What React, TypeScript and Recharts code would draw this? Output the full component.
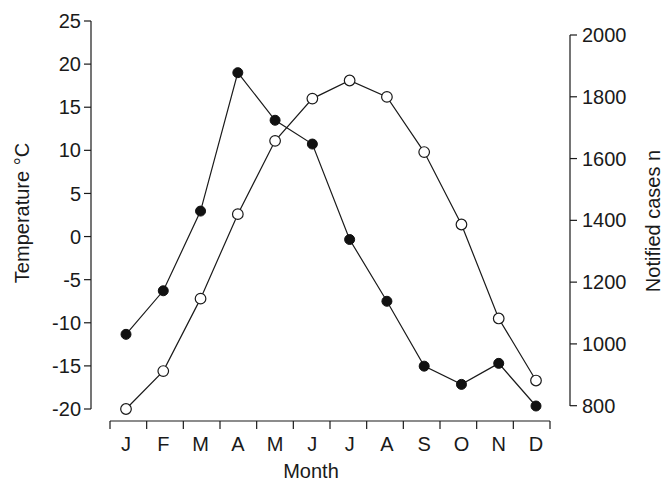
import { LineChart, Line, XAxis, YAxis } from 'recharts';

const months = ['J', 'F', 'M', 'A', 'M', 'J', 'J', 'A', 'S', 'O', 'N', 'D'];
const temperature = [-20, -15.6, -7.2, 2.6, 11.1, 16.0, 18.1, 16.2, 9.8, 1.4, -9.5, -16.7];
const notifiedCases = [1031, 1172, 1430, 1878, 1724, 1647, 1338, 1138, 928, 869, 937, 799];

const tempTicks = [-20, -15, -10, -5, 0, 5, 10, 15, 20, 25];
const caseTicks = [800, 1000, 1200, 1400, 1600, 1800, 2000];
// month boundaries, half a step either side of each month
const monthBounds = [-0.5, 0.5, 1.5, 2.5, 3.5, 4.5, 5.5, 6.5, 7.5, 8.5, 9.5, 10.5, 11.5];
const monthIdx = months.map((_, i) => i);

const data = months.map((m, i) => ({
  idx: i,
  month: m,
  temperature: temperature[i],
  cases: notifiedCases[i],
}));

const ink = '#1a1a1a';
const font = '"Liberation Sans", Arial, sans-serif';
const tickStyle = { fontSize: 20, fill: ink, fontFamily: font };

export default function App() {
  return (
    <div style={{ position: 'absolute', left: 0, top: 0, width: 665, height: 483, background: '#fff' }}>
      <LineChart width={665} height={483} data={data} margin={{ top: 21, right: 0, bottom: 21, left: 0 }}>
        <XAxis
          xAxisId="bounds"
          type="number"
          dataKey="idx"
          domain={[-0.5, 11.5]}
          allowDataOverflow
          ticks={monthBounds}
          interval={0}
          padding={{ left: 19, right: 20 }}
          height={1}
          tickSize={8}
          tickFormatter={() => ''}
          tickLine={{ stroke: ink, strokeWidth: 1.2 }}
          axisLine={{ stroke: ink, strokeWidth: 1.2, strokeDasharray: '0 19 440 200' }}
        />
        <XAxis
          xAxisId="m"
          type="number"
          dataKey="idx"
          domain={[0, 11]}
          ticks={monthIdx}
          interval={0}
          padding={{ left: 35, right: 34 }}
          height={40}
          tickSize={0}
          tickMargin={15}
          axisLine={false}
          tickLine={false}
          tickFormatter={(v: number) => months[v]}
          tick={tickStyle}
          label={{
            content: () => (
              <text x={311} y={478} textAnchor="middle" fontSize={20} fill={ink} fontFamily={font}>
                Month
              </text>
            ),
          }}
        />
        <YAxis
          yAxisId="t"
          domain={[-20, 25]}
          ticks={tempTicks}
          interval={0}
          width={91}
          padding={{ top: 0, bottom: 12 }}
          tickSize={7}
          tickMargin={3}
          tick={tickStyle}
          tickLine={{ stroke: ink, strokeWidth: 1.2 }}
          axisLine={{ stroke: ink, strokeWidth: 1.2, strokeDasharray: '388 200' }}
          label={{
            content: () => (
              <text
                transform="translate(29,213) rotate(-90)"
                textAnchor="middle"
                fontSize={20}
                fill={ink}
                fontFamily={font}
              >
                Temperature °C
              </text>
            ),
          }}
        />
        <YAxis
          yAxisId="c"
          orientation="right"
          domain={[800, 2000]}
          ticks={caseTicks}
          interval={0}
          width={95}
          padding={{ top: 14, bottom: 15 }}
          tickSize={7}
          tickMargin={5}
          tick={tickStyle}
          tickLine={{ stroke: ink, strokeWidth: 1.2 }}
          axisLine={{ stroke: ink, strokeWidth: 1.2, strokeDasharray: '0 14 371 200' }}
          label={{
            content: () => (
              <text
                transform="translate(660,221) rotate(-90)"
                textAnchor="middle"
                fontSize={20}
                fill={ink}
                fontFamily={font}
              >
                Notified cases n
              </text>
            ),
          }}
        />
        <Line
          xAxisId="m"
          yAxisId="c"
          dataKey="cases"
          stroke={ink}
          strokeWidth={1.2}
          dot={{ r: 5, fill: '#111', stroke: '#111', strokeWidth: 1 }}
          isAnimationActive={false}
        />
        <Line
          xAxisId="m"
          yAxisId="t"
          dataKey="temperature"
          stroke={ink}
          strokeWidth={1.2}
          dot={{ r: 5.3, fill: '#fff', stroke: ink, strokeWidth: 1.2 }}
          isAnimationActive={false}
        />
      </LineChart>
    </div>
  );
}
